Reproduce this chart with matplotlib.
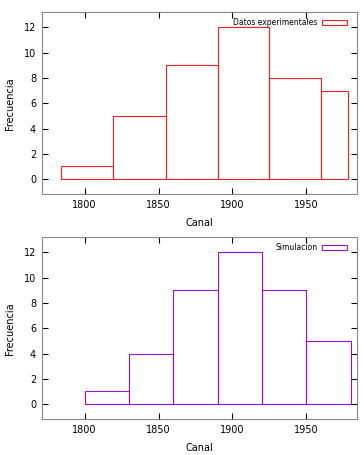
import numpy as np
import matplotlib
matplotlib.use('Agg')
import matplotlib.pyplot as plt
from matplotlib.patches import Rectangle


# bin edges and counts
EXP_EDGES = [1784, 1819, 1855, 1890, 1925, 1960, 1978]
EXP_COUNTS = [1, 5, 9, 12, 8, 7]
SIM_EDGES = [1800, 1830, 1860, 1890, 1920, 1950, 1980]
SIM_COUNTS = [1, 4, 9, 12, 9, 5]
X_TICKS = [1800, 1850, 1900, 1950]
Y_TICKS = [0, 2, 4, 6, 8, 10, 12]


def hist_panel(ax, edges, counts, color, label):
    '''Draw gnuplot-like boxes outline histogram.'''
    edges = np.array(edges, dtype=float)
    ax.bar(edges[:-1], counts, width=np.diff(edges), align='edge',
           fill=False, edgecolor=color, linewidth=0.8)
    ax.set_xlim(1771, 1984)
    ax.set_ylim(-1.2, 13.2)
    ax.set_xticks(X_TICKS)
    ax.set_yticks(Y_TICKS)
    ax.tick_params(direction='in', length=4, width=0.8, top=True,
                   right=True, labelsize=7, color='black', pad=4)
    for s in ax.spines.values():
        s.set_color('#858a85')
        s.set_linewidth(0.8)
    ax.set_xlabel('Canal', fontsize=7, labelpad=6)
    ax.set_ylabel('Frecuencia', fontsize=7, labelpad=6)
    handle = Rectangle((0, 0), 1, 1, fill=False, edgecolor=color,
                       linewidth=0.8)
    ax.legend([handle], [label], loc='upper right', frameon=False,
              fontsize=5.5, markerfirst=False, handlelength=3.2,
              handleheight=0.5, borderaxespad=0.9, handletextpad=0.6,
              bbox_to_anchor=(1.0, 1.022))


fig = plt.figure(figsize=(3.64, 4.55), dpi=100)
ax1 = fig.add_axes([0.1146, 0.573, 0.8654, 0.4])
ax2 = fig.add_axes([0.1146, 0.0785, 0.8654, 0.4])
hist_panel(ax1, EXP_EDGES, EXP_COUNTS, '#f02020', 'Datos experimentales')
hist_panel(ax2, SIM_EDGES, SIM_COUNTS, '#9a10d8', 'Simulacion')
fig.savefig('out.png', dpi=100)
